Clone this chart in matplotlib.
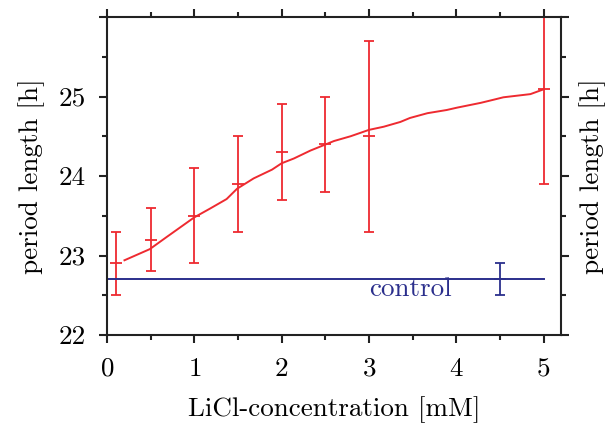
import numpy as np
import matplotlib
matplotlib.use("Agg")
import matplotlib.pyplot as plt

plt.rcParams['font.family'] = 'serif'
plt.rcParams['font.serif'] = ['cmr10']
plt.rcParams['mathtext.fontset'] = 'cm'
plt.rcParams['axes.formatter.use_mathtext'] = True

# measured points with error bars
conc = [0.1, 0.5, 1.0, 1.5, 2.0, 2.5, 3.0, 5.0]
period = [22.9, 23.2, 23.5, 23.9, 24.3, 24.4, 24.5, 25.1]
period_err = [0.4, 0.4, 0.6, 0.6, 0.6, 0.6, 1.2, 1.2]

# fitted curve
fit_x = [0.2, 0.49, 0.68, 1.0, 1.18, 1.37, 1.49, 1.68, 1.89, 2.0, 2.14, 2.33,
         2.6, 2.79, 3.0, 3.17, 3.36, 3.47, 3.67, 3.89, 4.01, 4.28, 4.43, 4.54,
         4.85, 5.0]
fit_y = [22.94, 23.08, 23.23, 23.48, 23.59, 23.71, 23.84, 23.97, 24.08, 24.16,
         24.22, 24.32, 24.44, 24.50, 24.58, 24.62, 24.68, 24.73, 24.79, 24.83,
         24.86, 24.92, 24.96, 24.99, 25.03, 25.09]

# control
control_x = [0.0, 5.0]
control_level = 22.7
control_pt = 4.5
control_err = 0.2

yticks = [22, 23, 24, 25, 26]
ytick_labels = ['22', '23', '24', '25', '']
xticks = [0, 1, 2, 3, 4, 5]

red = '#ee2a30'
blue = '#2b2f8c'
fs = 19.5

fig = plt.figure(figsize=(6.05, 4.26), dpi=100)
ax = fig.add_axes([107/605, 1-335/426, (561-107)/605, (335-17)/426])

ax.plot(fit_x, fit_y, color=red, lw=1.4)
ax.errorbar(conc, period, yerr=period_err, fmt='_', color=red, ms=8,
            mew=1.3, elinewidth=1.3, capsize=3.5, capthick=1.3)

ax.plot(control_x, [control_level]*2, color=blue, lw=1.4)
ax.errorbar([control_pt], [control_level], yerr=[control_err], fmt='_', color=blue,
            ms=8, mew=1.3, elinewidth=1.3, capsize=3.5, capthick=1.3)
ax.text(3.0, control_level + 0.02, 'control', color=blue, fontsize=fs,
        ha='left', va='top')

ax.set_xlim(0, 5.2)
ax.set_ylim(22, 26)
ax.set_xticks(xticks)
ax.set_xticks(np.arange(0.5, 5.2, 1.0), minor=True)
ax.set_yticks(yticks)
ax.set_yticklabels(ytick_labels)
ax.set_yticks(np.arange(22.5, 26, 1.0), minor=True)

for s in ax.spines.values():
    s.set_linewidth(1.5)
    s.set_color('#222222')

ax.tick_params(which='both', direction='out', top=True, right=True,
               labelsize=fs, width=1.5, color='#222222')
ax.tick_params(which='major', length=6)
ax.tick_params(which='minor', length=3.6)
ax.tick_params(axis='y', pad=9)
ax.tick_params(axis='x', pad=10)

ax.set_xlabel('LiCl-concentration [mM]', fontsize=fs)
ax.xaxis.set_label_coords(0.5, (335-410)/318, transform=ax.transAxes)
ax.xaxis.label.set_va('center')
ax.set_ylabel('period length [h]', fontsize=fs)
ax.yaxis.set_label_coords((32-107)/454, 0.5)
ax.yaxis.label.set_va('center')

# same label on the right side
fig.text(593/605, 1-176/426, 'period length [h]', fontsize=fs,
         rotation=90, ha='center', va='center')

fig.savefig('out.png', dpi=100)
